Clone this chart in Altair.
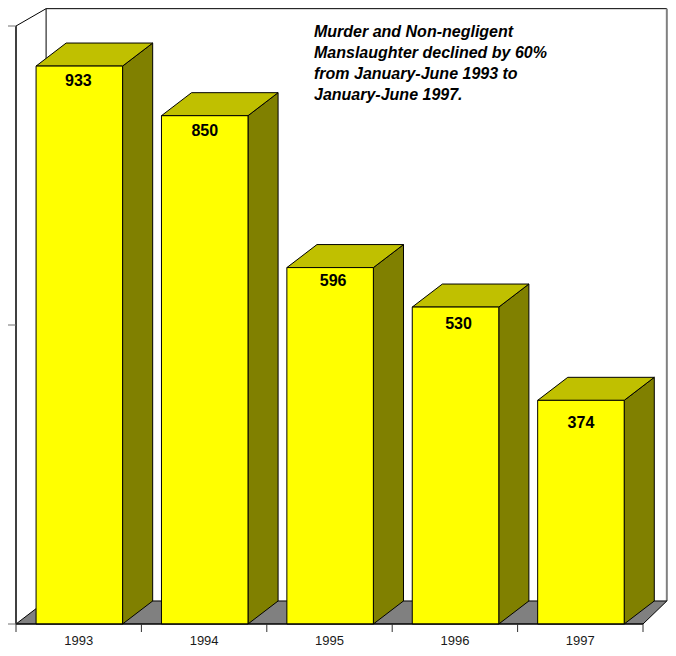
import altair as alt
import pandas as pd

years = ["1993", "1994", "1995", "1996", "1997"]
values = [933, 850, 596, 530, 374]
slots = [0, 1, 2, 3, 4]
# the reference sets its value labels by hand: nudges from the bar's centre / top
label_nudge_x = [-0.008, 0.0, 0.024, 0.024, 0.0]
label_nudge_y = [25, 26, 22, 28, 38]
y_ticks = [0, 500, 1000]
x_ticks = [0, 1, 2, 3, 4, 5]
note = ("Murder and Non-negligent\nManslaughter declined by 60%\n"
        "from January-June 1993 to\nJanuary-June 1997.")

DX = 0.24      # depth of the 3D box along the category axis
DY = 38.5      # depth along the value axis
GAP_L = 0.16
GAP_R = 0.85
WALL_TOP = 1029
WALL_RIGHT = 5.19
TICK_X = 0.064
TICK_Y = 13.4

xs = alt.Scale(domain=[0, 5], range=[8, 635], nice=False, zero=False)
ys = alt.Scale(domain=[0, 1000], range=[616, 18], nice=False, zero=False)
X = lambda f: alt.X(f, type="quantitative", scale=xs, axis=None, title=None)
Y = lambda f: alt.Y(f, type="quantitative", scale=ys, axis=None, title=None)

bars = pd.DataFrame({"year": years, "v": values, "i": slots})
bars["l"] = bars.i + GAP_L
bars["r"] = bars.i + GAP_R
bars["c"] = bars.i + (GAP_L + GAP_R) / 2 + pd.Series(label_nudge_x)
bars["lv"] = bars.v - pd.Series(label_nudge_y)
bars["mid"] = bars.i + 0.5
bars["zero"] = 0

side = pd.concat([
    bars.assign(px=bars.r, lo=0, hi=bars.v),
    bars.assign(px=bars.r + DX, lo=DY, hi=bars.v + DY),
])
top = pd.concat([
    bars.assign(py=bars.v, a=bars.l, b=bars.r),
    bars.assign(py=bars.v + DY, a=bars.l + DX, b=bars.r + DX),
])
floor = pd.DataFrame({"py": [0, DY], "a": [0, DX], "b": [5, WALL_RIGHT]})

def rule(df, color, width):
    return alt.Chart(df).mark_rule(color=color, strokeWidth=width).encode(
        x=X("x1"), x2="x2", y=Y("y1"), y2="y2")

floor_l = alt.Chart(floor).mark_area(orient="horizontal", fill="#808080", stroke="#000000", strokeWidth=1).encode(
    y=Y("py"), x=X("a"), x2="b")

wall_black = rule(pd.DataFrame({
    "x1": [DX, DX, 0],
    "x2": [WALL_RIGHT, DX, DX],
    "y1": [WALL_TOP, WALL_TOP, 1000],
    "y2": [WALL_TOP, DY, WALL_TOP],
}), "#000000", 1)
wall_right = rule(pd.DataFrame({
    "x1": [WALL_RIGHT], "x2": [WALL_RIGHT], "y1": [WALL_TOP], "y2": [DY],
}), "#808080", 2)

side_l = alt.Chart(side).mark_area(fill="#808000", stroke="#000000", strokeWidth=1).encode(
    x=X("px"), y=Y("lo"), y2="hi", detail="year:N")
top_l = alt.Chart(top).mark_area(orient="horizontal", fill="#C0C000", stroke="#000000", strokeWidth=1).encode(
    y=Y("py"), x=X("a"), x2="b", detail="year:N")
front = alt.Chart(bars).mark_rect(fill="#FFFF00", stroke="#000000", strokeWidth=1).encode(
    x=X("l"), x2="r", y=Y("v"), y2="zero")

y_axis = rule(pd.DataFrame({"x1": [0], "x2": [0], "y1": [0], "y2": [1000]}), "#404040", 2)
y_tick = rule(pd.DataFrame({"x1": [-TICK_X] * 3, "x2": [0] * 3, "y1": y_ticks, "y2": y_ticks}), "#707070", 1)
x_axis = rule(pd.DataFrame({"x1": [0], "x2": [5], "y1": [0], "y2": [0]}), "#000000", 1)
x_tick = rule(pd.DataFrame({"x1": x_ticks, "x2": x_ticks, "y1": [0] * 6, "y2": [-TICK_Y] * 6}), "#303030", 1)

labels = alt.Chart(bars).mark_text(
    font="Liberation Sans", fontWeight="bold", fontSize=16, color="#000000",
    baseline="middle", align="center").encode(
    x=X("c"), y=Y("lv"), text="v:Q")
years_l = alt.Chart(bars).mark_text(
    font="Liberation Sans", fontSize=13, color="#1a1a1a",
    baseline="middle", align="center", dy=17).encode(
    x=X("mid"), y=Y("zero"), text="year:N")

note_l = alt.Chart(pd.DataFrame({"t": [note]})).mark_text(
    font="Liberation Sans", fontWeight="bold", fontStyle="italic", fontSize=16, color="#000000",
    align="left", baseline="top", lineBreak="\n", lineHeight=21).encode(
    x=alt.value(306), y=alt.value(16), text="t:N")

chart = alt.layer(
    wall_black, wall_right, floor_l, side_l, top_l, front,
    y_axis, y_tick, x_axis, x_tick, labels, years_l, note_l,
).properties(
    width=660, height=640, padding=0, background="#FFFFFF",
    autosize=alt.AutoSizeParams(type="none"),
).configure_view(stroke=None, clip=False)

chart.save("out.html", embed_options={"renderer": "svg", "actions": False})
